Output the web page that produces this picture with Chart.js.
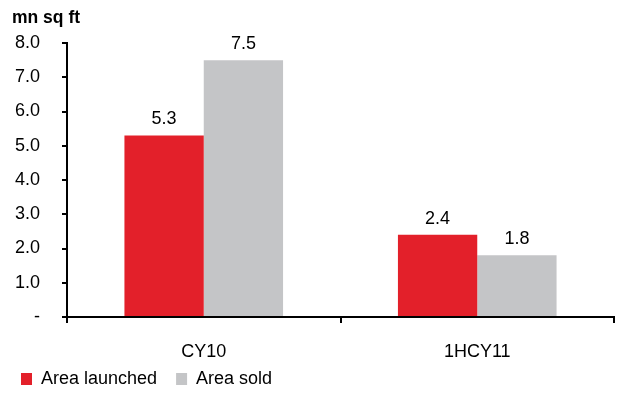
<!DOCTYPE html>
<html>
<head>
<meta charset="utf-8">
<script src="https://cdn.jsdelivr.net/npm/chart.js@4"></script>
<style>
  html, body { margin: 0; padding: 0; background: #fff; }
  #wrap { width: 618px; height: 394px; }
</style>
</head>
<body>
<div id="wrap"><canvas id="chart" width="618" height="394"></canvas></div>
<script>
// 연도별 공급/판매 면적 (mn sq ft)
const categories = ['CY10', '1HCY11'];
const areaLaunched = [5.3, 2.4];
const areaSold = [7.5, 1.8];

const FONT = 'Arial, "Liberation Sans", sans-serif';
const FONT_SIZE = 18;

// 막대 위에 값 표시
const valueLabels = {
  id: 'valueLabels',
  afterDatasetsDraw(chart) {
    const ctx = chart.ctx;
    ctx.save();
    ctx.font = FONT_SIZE + 'px ' + FONT;
    ctx.fillStyle = '#000';
    ctx.textAlign = 'center';
    ctx.textBaseline = 'alphabetic';
    chart.data.datasets.forEach((ds, i) => {
      chart.getDatasetMeta(i).data.forEach((bar, j) => {
        ctx.fillText(ds.data[j].toFixed(1), bar.x, bar.y - 11);
      });
    });
    ctx.restore();
  },
};

// 범례 위치 미세 조정 (왼쪽/위로)
const legendShift = {
  id: 'legendShift',
  afterLayout(chart) {
    chart.legend.left -= 10;
    chart.legend.top -= 12;
    chart.legend.bottom -= 12;
  },
};

new Chart(document.getElementById('chart'), {
  type: 'bar',
  data: {
    labels: categories,
    datasets: [
      {
        label: 'Area launched',
        data: areaLaunched,
        backgroundColor: '#E3202A',
      },
      {
        label: 'Area sold',
        data: areaSold,
        backgroundColor: '#C4C5C7',
      },
    ],
  },
  options: {
    responsive: false,
    animation: false,
    datasets: {
      bar: { categoryPercentage: 0.58, barPercentage: 1.0 },
    },
    layout: { padding: { left: 12, right: 4, top: 2, bottom: -16 } },
    plugins: {
      title: {
        display: true,
        text: 'mn sq ft',
        align: 'start',
        color: '#000',
        font: { family: FONT, size: 17.5, weight: 'bold' },
        padding: { top: 6, bottom: 14 },
      },
      legend: {
        position: 'bottom',
        align: 'start',
        labels: {
          boxWidth: 11,
          boxHeight: 12,
          color: '#000',
          padding: 19,
          font: { family: FONT, size: FONT_SIZE },
        },
      },
      tooltip: { enabled: false },
    },
    scales: {
      x: {
        afterFit(scale) {
          scale.height = 46;
        },
        grid: {
          offset: true,
          drawOnChartArea: false,
          drawTicks: true,
          tickLength: 6,
          color: '#000',
          lineWidth: 2,
        },
        border: { color: '#000', width: 2 },
        ticks: {
          color: '#000',
          padding: 18,
          font: { family: FONT, size: FONT_SIZE },
        },
      },
      y: {
        min: 0,
        max: 8,
        afterFit(scale) {
          scale.width = 55;
        },
        grid: {
          drawOnChartArea: false,
          drawTicks: true,
          tickLength: 5,
          color: '#000',
          lineWidth: 2,
        },
        border: { color: '#000', width: 2 },
        ticks: {
          stepSize: 1,
          color: '#000',
          padding: 22,
          font: { family: FONT, size: FONT_SIZE },
          callback: (v) => (v === 0 ? '-' : v.toFixed(1)),
        },
      },
    },
  },
  plugins: [valueLabels, legendShift],
});
</script>
</body>
</html>
